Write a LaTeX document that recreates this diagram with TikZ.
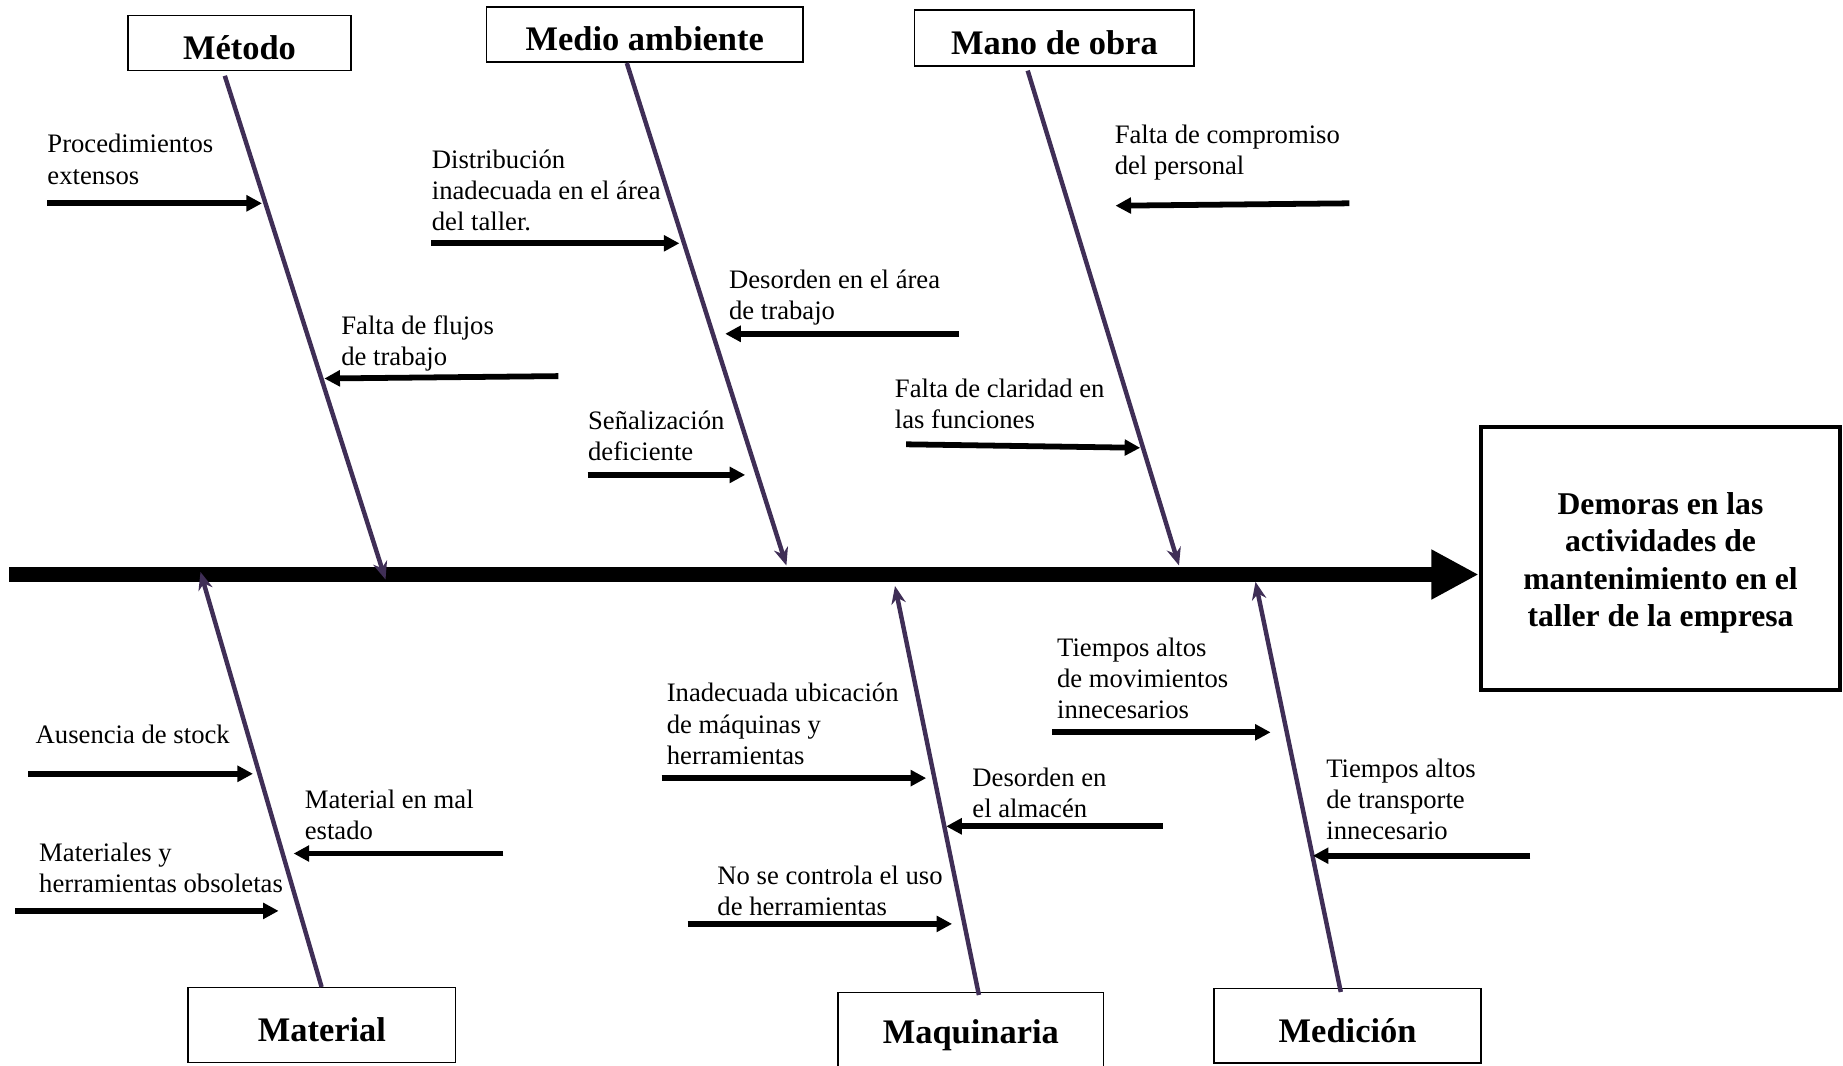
\documentclass[tikz,border=0pt]{standalone}
\usepackage{fontspec}
\setmainfont{Liberation Serif}
\usetikzlibrary{arrows.meta}
\definecolor{bonecol}{HTML}{3F2E56}

\begin{document}
\begin{tikzpicture}[x=0.45pt,y=-0.45pt,
  cat/.style={draw, line width=0.8pt, inner sep=0pt, text height=14.7pt, text depth=0pt,
    font=\fontsize{15.5}{18}\selectfont\bfseries},
  bone/.style={draw=bonecol, line width=2pt, -{Stealth[length=8pt,width=6.5pt]}},
  cause/.style={draw, line width=2.6pt, -{Triangle[length=7pt,width=7pt]}},
  lbl/.style={anchor=north west, align=left, inner sep=0pt, font=\fontsize{12}{14}\selectfont}]
\useasboundingbox (0,0) rectangle (1843,1065);

% categories
\node[cat, minimum width=100.4pt, minimum height=24.8pt] (metodo) at (239.5,43) {Método};
\node[cat, minimum width=142.3pt, minimum height=24.8pt] (medio) at (644.7,34.5) {Medio ambiente};
\node[cat, minimum width=125.9pt, minimum height=25.1pt] (mano) at (1054.4,38.2) {Mano de obra};
\node[cat, minimum width=120.2pt, minimum height=33.7pt] (material) at (321.9,1025) {Material};
\node[cat, minimum width=119.5pt, minimum height=35.5pt, text height=10.3pt] (maquinaria) at (970.8,1032) {Maquinaria};
\node[cat, minimum width=120pt, minimum height=33.5pt] (medicion) at (1347.6,1025.8) {Medición};

% effect
\node[draw, line width=2pt, minimum width=161.6pt, minimum height=118.5pt, align=center,
  font=\fontsize{14.25}{16.7}\selectfont\bfseries] (efecto) at (1660.5,558.4)
  {\rule{0pt}{13.9pt}Demoras en las\\actividades de\\mantenimiento en el\\taller de la empresa};

% spine
\coordinate (cola) at (9,574.5);
\path[draw, line width=7pt, -{Triangle[length=21.3pt,width=21pt]}] (cola) -- (cola -| efecto.west);

% bones
\coordinate (b1) at (224.8,75.8);   \coordinate (b1e) at (385.5,579.5);
\coordinate (b2) at (626.8,63);     \coordinate (b2e) at (786.4,565.5);
\coordinate (b3) at (1027.7,70.6);  \coordinate (b3e) at (1179,565.5);
\coordinate (b4) at (321.6,987);    \coordinate (b4e) at (200.5,572);
\coordinate (b5) at (978.9,995);    \coordinate (b5e) at (895,586);
\coordinate (b6) at (1340.8,992);   \coordinate (b6e) at (1255.5,581.8);
\path[bone] (b1) -- (b1e);
\path[bone] (b2) -- (b2e);
\path[bone] (b3) -- (b3e);
\path[bone] (b4) -- (b4e);
\path[bone] (b5) -- (b5e);
\path[bone] (b6) -- (b6e);

% causes
\node[lbl] (t1) at (47,134) {Procedimientos\\extensos};
\node[lbl] (t2) at (340.9,315) {Falta de flujos\\de trabajo};
\node[lbl] (t3) at (431.4,149.3) {Distribución\\inadecuada en el área\\del taller.};
\node[lbl] (t4) at (728.7,269.2) {Desorden en el área\\de trabajo};
\node[lbl] (t5) at (587.7,410.2) {Señalización\\deficiente};
\node[lbl] (t6) at (1114.3,124.6) {Falta de compromiso\\del personal};
\node[lbl] (t7) at (894.5,378.5) {Falta de claridad en\\las funciones};
\node[lbl] (t8) at (35.3,724.1) {Ausencia de stock};
\node[lbl] (t9) at (304.4,789.9) {Material en mal\\estado};
\node[lbl] (t10) at (38.8,842.8) {Materiales y\\herramientas obsoletas};
\node[lbl] (t11) at (666.4,682.9) {Inadecuada ubicación\\de máquinas y\\herramientas};
\node[lbl] (t12) at (972,767.6) {Desorden en\\el almacén};
\node[lbl] (t13) at (717,865.1) {No se controla el uso\\de herramientas};
\node[lbl] (t14) at (1056.7,637.1) {Tiempos altos\\de movimientos\\innecesarios};
\node[lbl] (t15) at (1325.9,758.2) {Tiempos altos\\de transporte\\innecesario};

\coordinate (a1) at (47,203.3);      \coordinate (a1e) at (262,203.3);
\coordinate (a2) at (558.3,376.1);   \coordinate (a2e) at (324.4,378.5);
\coordinate (a3) at (431.4,243.3);   \coordinate (a3e) at (679.4,243.3);
\coordinate (a4) at (959.1,333.8);   \coordinate (a4e) at (725.2,333.8);
\coordinate (a5) at (587.7,474.9);   \coordinate (a5e) at (745.2,474.9);
\coordinate (a6) at (1349.4,203.3);  \coordinate (a6e) at (1115.5,205.7);
\coordinate (a7) at (906.2,444.3);   \coordinate (a7e) at (1140.2,447.8);
\coordinate (a8) at (28.2,773.8);    \coordinate (a8e) at (253,773.8);
\coordinate (a9) at (503.3,853.5);   \coordinate (a9e) at (293.6,853.5);
\coordinate (a10) at (15.3,910.9);   \coordinate (a10e) at (278.6,910.9);
\coordinate (a11) at (661.7,778.1);  \coordinate (a11e) at (926.2,778.1);
\coordinate (a12) at (1162.5,826.3); \coordinate (a12e) at (946.2,826.3);
\coordinate (a13) at (687.6,923.9);  \coordinate (a13e) at (952.1,923.9);
\coordinate (a14) at (1052,732.3);   \coordinate (a14e) at (1270.6,732.3);
\coordinate (a15) at (1530.4,855.7); \coordinate (a15e) at (1312.9,855.7);
\path[cause] (a1) -- (a1e);
\path[cause] (a2) -- (a2e);
\path[cause] (a3) -- (a3e);
\path[cause] (a4) -- (a4e);
\path[cause] (a5) -- (a5e);
\path[cause] (a6) -- (a6e);
\path[cause] (a7) -- (a7e);
\path[cause] (a8) -- (a8e);
\path[cause] (a9) -- (a9e);
\path[cause] (a10) -- (a10e);
\path[cause] (a11) -- (a11e);
\path[cause] (a12) -- (a12e);
\path[cause] (a13) -- (a13e);
\path[cause] (a14) -- (a14e);
\path[cause] (a15) -- (a15e);
\end{tikzpicture}
\end{document}
